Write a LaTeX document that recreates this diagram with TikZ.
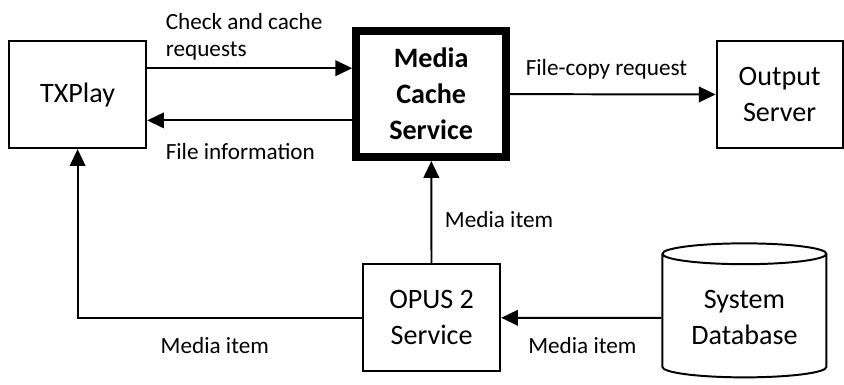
\documentclass[tikz,border=0pt]{standalone}
\usepackage{fontspec}
\setmainfont{Carlito}
\usetikzlibrary{positioning, arrows.meta, shapes.geometric, calc}

\begin{document}
\begin{tikzpicture}[
    >={Triangle[length=4.2mm, width=3.9mm]},
    line width=1.4pt,
    box/.style={draw, minimum width=3.43cm, minimum height=2.68cm, align=center, fill=white, font=\fontsize{20}{25.5}\selectfont, inner sep=4pt},
    mainbox/.style={box, line width=5.7pt, minimum width=3.75cm, minimum height=3.15cm, font=\fontsize{20}{25.5}\selectfont\bfseries},
    dbase/.style={draw, cylinder, shape border rotate=90, aspect=0.18, minimum width=4.1cm, minimum height=3.35cm, align=center, font=\fontsize{20}{25.5}\selectfont},
    txt/.style={align=left, font=\fontsize{16.5}{19.5}\selectfont, inner sep=0pt}
]

\useasboundingbox (0, 0) rectangle (21.1, 9.625);

% ================= Nodes =================

% Top row
\node[box] (txplay) at (1.94, 7.26) {TXPlay};
\node[mainbox] (mcs) at (10.78, 7.275) {Media \\ Cache \\ Service};
\node[box, minimum width=3.15cm] (output) at (19.49, 7.26) {Output \\ Server};

% Bottom row
\node[box] (opus) at (10.79, 1.68) {OPUS 2 \\ Service};
\node[dbase] (db) at (18.61, 1.68) {System \\ Database};

% ================= Labels =================

\node[txt, anchor=west] (lbl_check) at (4.12, 8.71) {Check and cache \\ requests};
\node[txt, anchor=west] (lbl_info) at (4.12, 5.83) {File information};
\node[txt, anchor=west] (lbl_copy) at (13.12, 7.9) {File-copy request};
\node[txt, anchor=west] (lbl_item_up) at (11.1, 4.125) {Media item};
\node[txt] (lbl_item_left) at (5.37, 0.975) {Media item};
\node[txt] (lbl_item_right) at (14.56, 0.975) {Media item};

% ================= Edges =================

% TXPlay <-> Media Cache Service
\draw[->] ([yshift=0.66cm]txplay.east) -- ([yshift=0.66cm]txplay.east -| mcs.west);
\draw[->] ([yshift=-0.66cm]mcs.west) -- ([yshift=-0.66cm]mcs.west -| txplay.east);

% Media Cache Service to Output Server
\draw[->] (mcs) -- (output);

% OPUS 2 Service to Media Cache Service
\draw[->] (opus) -- (mcs);

% OPUS 2 Service back to TXPlay
\draw[->] (opus.west) -| (txplay.south);

% System Database to OPUS 2 Service
\draw[->] (db) -- (opus);

\end{tikzpicture}
\end{document}
